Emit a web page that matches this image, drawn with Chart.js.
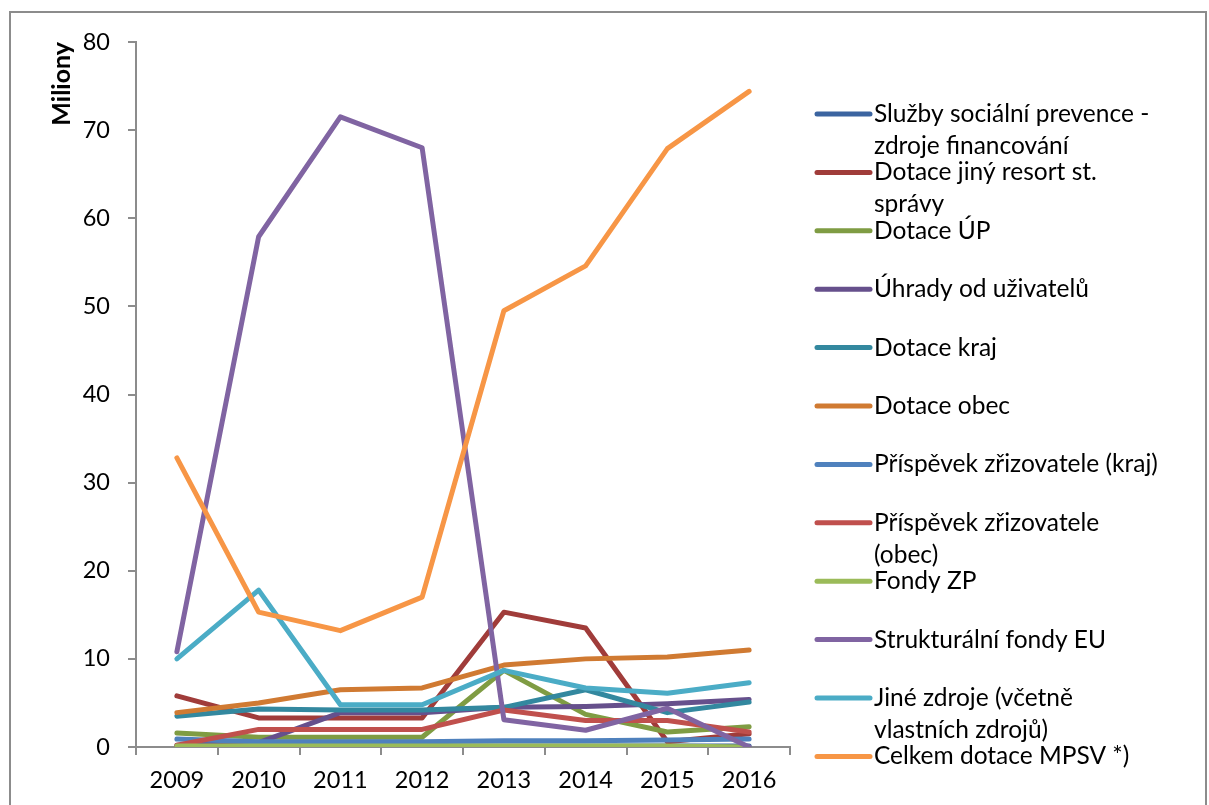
<!DOCTYPE html>
<html>
<head>
<meta charset="utf-8">
<script src="https://cdn.jsdelivr.net/npm/chart.js@4/dist/chart.umd.min.js"></script>
<style>
  body { margin: 0; background: #fff; }
</style>
</head>
<body>
<canvas id="lineChart" width="1209" height="805"></canvas>
<script>
const years = ['2009', '2010', '2011', '2012', '2013', '2014', '2015', '2016']

const seriesNames = [
    'Služby sociální prevence -\nzdroje financování',
    'Dotace jiný resort st.\nsprávy',
    'Dotace ÚP',
    'Úhrady od uživatelů',
    'Dotace kraj',
    'Dotace obec',
    'Příspěvek zřizovatele (kraj)',
    'Příspěvek zřizovatele\n(obec)',
    'Fondy ZP',
    'Strukturální fondy EU',
    'Jiné zdroje (včetně\nvlastních zdrojů)',
    'Celkem dotace MPSV *)'
]

const sluzby     = [0.1, 0.1, 0.1, 0.1, 0.1, 0.1, 0.1, 0.1]
const jinyResort = [5.8, 3.3, 3.3, 3.3, 15.3, 13.5, 0.6, 1.5]
const dotaceUP   = [1.6, 1.1, 1.1, 1.1, 8.7, 3.7, 1.7, 2.3]
const uhrady     = [0.2, 0.5, 3.9, 3.9, 4.5, 4.6, 4.9, 5.4]
const dotaceKraj = [3.5, 4.3, 4.2, 4.2, 4.5, 6.5, 3.9, 5.1]
const dotaceObec = [3.9, 5.0, 6.5, 6.7, 9.3, 10.0, 10.2, 11.0]
const prispKraj  = [0.9, 0.6, 0.6, 0.6, 0.7, 0.7, 0.8, 0.9]
const prispObec  = [0.2, 2.0, 2.0, 2.0, 4.2, 3.0, 3.0, 1.7]
const fondyZP    = [0.1, 0.1, 0.1, 0.1, 0.1, 0.1, 0.1, 0.0]
const fondyEU    = [10.8, 57.9, 71.5, 68.0, 3.1, 1.9, 4.4, 0.0]
const jineZdroje = [10.0, 17.8, 4.8, 4.8, 8.7, 6.7, 6.1, 7.3]
const mpsv       = [32.8, 15.3, 13.2, 17.0, 49.5, 54.6, 67.9, 74.4]

const seriesValues = [sluzby, jinyResort, dotaceUP, uhrady, dotaceKraj, dotaceObec,
    prispKraj, prispObec, fondyZP, fondyEU, jineZdroje, mpsv]

const colors = ['#3B64A0', '#A03C3A', '#7F9C43', '#66508C', '#33889F', '#D07A32',
    '#4F81BD', '#C0504D', '#9BBB59', '#8064A2', '#4BACC6', '#F79646']

const yTicks = [0, 10, 20, 30, 40, 50, 60, 70, 80]

const FONT = 'Lato'
const axisGrey = '#8c8c8c'

// Legend drawn by hand so that long names wrap like in Excel
const sideLegend = {
    id: 'sideLegend',
    beforeDraw(chart) {
        const c = chart.ctx
        c.save()
        c.strokeStyle = axisGrey
        c.lineWidth = 2
        c.strokeRect(10, 12, 1196, 810)
        c.restore()
    },
    afterDraw(chart) {
        const c = chart.ctx
        const x0 = chart.chartArea.right + 25
        c.save()
        c.font = '24.5px ' + FONT
        c.textBaseline = 'middle'
        c.fillStyle = '#000'
        chart.data.datasets.forEach((ds, i) => {
            const y = 114 + i * 58.4
            c.strokeStyle = ds.borderColor
            c.lineWidth = 5
            c.lineCap = 'round'
            c.beginPath()
            c.moveTo(x0 + 2, y)
            c.lineTo(x0 + 55, y)
            c.stroke()
            ds.fullName.split('\n').forEach((line, j) => {
                c.fillText(line, x0 + 59, y + j * 32)
            })
        })
        c.restore()
    }
}

const data = {
    labels: years,
    datasets: seriesValues.map((vals, i) => ({
        label: seriesNames[i].replace('\n', ' '),
        fullName: seriesNames[i],
        data: vals,
        borderColor: colors[i],
        backgroundColor: colors[i],
        borderWidth: 5,
        pointRadius: 0,
        tension: 0,
        borderCapStyle: 'round',
        borderJoinStyle: 'round',
        order: seriesValues.length - i,
    }))
}

const config = {
    type: 'line',
    data: data,
    options: {
        responsive: false,
        animation: false,
        layout: { padding: { left: 0, top: 42, right: 419, bottom: 0 } },
        plugins: {
            legend: { display: false },
            tooltip: { enabled: false },
        },
        scales: {
            x: {
                offset: true,
                grid: { offset: true, drawOnChartArea: false, drawTicks: true, tickLength: 8, color: axisGrey, lineWidth: 2 },
                border: { color: axisGrey, width: 2 },
                ticks: { color: '#000', font: { family: FONT, size: 23.5 }, padding: 11, maxRotation: 0, autoSkip: false },
                afterFit(scale) { scale.height = 58 },
            },
            y: {
                min: 0,
                max: 80,
                afterBuildTicks(scale) { scale.ticks = yTicks.map(v => ({ value: v })) },
                grid: { drawOnChartArea: false, drawTicks: true, tickLength: 8, color: axisGrey, lineWidth: 2 },
                border: { color: axisGrey, width: 2 },
                ticks: { color: '#000', font: { family: FONT, size: 23.5 }, padding: 18 },
                title: {
                    display: true,
                    text: 'Miliony',
                    align: 'end',
                    color: '#000',
                    font: { family: FONT, size: 25, weight: 'bold' },
                    padding: { top: 47, bottom: 0 },
                },
                afterFit(scale) { scale.width = 136 },
            },
        },
    },
    plugins: [sideLegend],
}

const myChart = new Chart(document.getElementById('lineChart').getContext('2d'), config)
</script>
</body>
</html>
